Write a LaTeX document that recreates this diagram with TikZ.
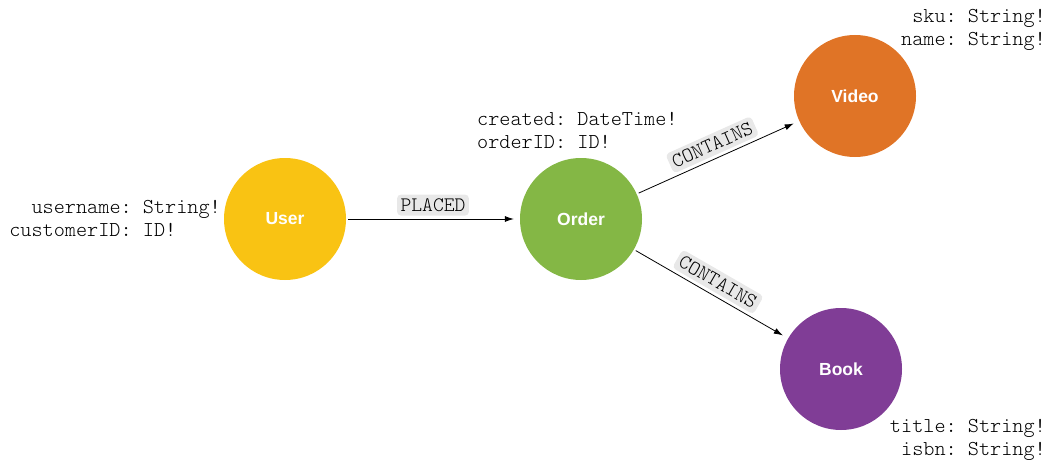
\documentclass[tikz,border=0pt]{standalone}
\usepackage{fontspec}
\setsansfont{Liberation Sans}
\setmonofont{Latin Modern Mono Light}
\usepackage{xcolor}
\usepackage{tikz}
\usetikzlibrary{arrows.meta, positioning}
\definecolor{UserYellow}{RGB}{249, 195, 19}
\definecolor{OrderGreen}{RGB}{132, 183, 69}
\definecolor{VideoOrange}{RGB}{224, 116, 38}
\definecolor{BookPurple}{RGB}{128, 61, 150}
\definecolor{LabelGray}{RGB}{232, 232, 232}

\tikzset{
  entity/.style={circle, minimum size=122pt, inner sep=0pt, text=white,
    font=\sffamily\bfseries\fontsize{17.5}{20}\selectfont},
  attr/.style={inner sep=0pt, font=\ttfamily\fontsize{21.2}{23}\selectfont},
  rel/.style={-{Latex[length=9pt,width=6pt]}, line width=0.8pt,
    shorten >=6pt, shorten <=2pt},
  rellabel/.style={fill=LabelGray, rounded corners=4pt, inner xsep=3.5pt, inner ysep=4pt,
    font=\ttfamily\fontsize{20.6}{21}\selectfont, sloped, above=3pt}
}

\begin{document}
\begin{tikzpicture}[x=1pt,y=1pt]
  \path[use as bounding box] (0,0) rectangle (1052,459);

  \node[entity, fill=UserYellow] (user) at (285,240) {User};
  \node[entity, fill=OrderGreen] (order) at (581,240) {Order};
  \node[entity, fill=VideoOrange] (video) at (855,363) {Video};
  \node[entity, fill=BookPurple] (book) at (841,90) {Book};

  \node[attr, anchor=east] (userattr) at (221,238.5) {%
    \begin{tabular}{@{}r@{\ }l@{}}username: & String!\\ customerID: & ID!\end{tabular}};
  \node[attr, anchor=west] (orderattr) at (477,326.5) {%
    \begin{tabular}{@{}r@{\ }l@{}}created: & DateTime!\\ orderID: & ID!\end{tabular}};
  \node[attr, anchor=east] (videoattr) at (1046,429.5) {%
    \begin{tabular}{@{}r@{\ }l@{}}sku: & String!\\ name: & String!\end{tabular}};
  \node[attr, anchor=east] (bookattr) at (1046,19.5) {%
    \begin{tabular}{@{}r@{\ }l@{}}title: & String!\\ isbn: & String!\end{tabular}};

  \draw[rel] (user) -- node[rellabel] (placed) {PLACED} (order);
  \draw[rel] (order) -- node[rellabel] (containsvideo) {CONTAINS} (video);
  \draw[rel] (order) -- node[rellabel] (containsbook) {CONTAINS} (book);
\end{tikzpicture}
\end{document}
